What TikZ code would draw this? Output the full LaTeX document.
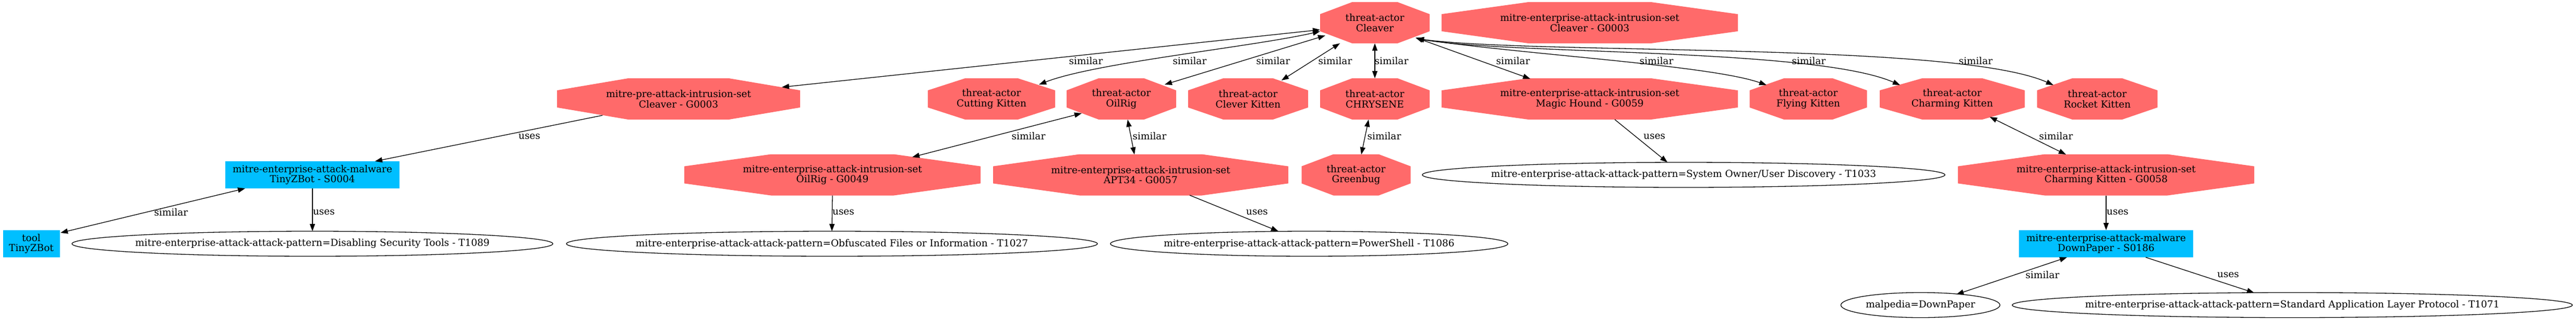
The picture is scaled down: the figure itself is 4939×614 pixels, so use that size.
\documentclass[tikz,border=0pt]{standalone}
\usepackage{fontspec}
\setmainfont{DejaVu Serif}
\usetikzlibrary{shapes.geometric,arrows.meta,calc}
\definecolor{octred}{HTML}{FF6A6A}
\definecolor{boxblue}{HTML}{00BFFF}
% name, x, y, width, chamfer, text
\newcommand\octn[6]{%
  \fill[octred] ({#2-#4/2+#5},{#3-39.5}) -- ({#2+#4/2-#5},{#3-39.5}) -- ({#2+#4/2},{#3-16.4}) -- ({#2+#4/2},{#3+16.4}) -- ({#2+#4/2-#5},{#3+39.5}) -- ({#2-#4/2+#5},{#3+39.5}) -- ({#2-#4/2},{#3+16.4}) -- ({#2-#4/2},{#3-16.4}) -- cycle;
  \node[octtext, minimum width=#4pt] (#1) at (#2,#3) {#6};%
}
\begin{document}
\begin{tikzpicture}[x=1pt,y=-1pt,
  every node/.style={font=\fontsize{18.5}{19.5}\selectfont, align=center, inner sep=0pt, outer sep=0pt},
  octtext/.style={rectangle, draw=none, minimum height=79pt},
  bluebox/.style={rectangle, fill=boxblue, draw=none, minimum width=#1pt, minimum height=52pt},
  pat/.style={ellipse, draw=black, line width=1.3pt, fill=white, minimum width=#1pt, minimum height=48pt},
  lbl/.style={},
  simedge/.style={line width=1.3pt, {Triangle[length=14pt,width=10pt]}-{Triangle[length=14pt,width=10pt]}},
  usesedge/.style={line width=1.3pt, -{Triangle[length=14pt,width=10pt]}},
]
\fill[white] (0,0) rectangle (4939,614);
\useasboundingbox (0,0) rectangle (4939,614);

% row 1
\octn{A}{2636}{43.5}{210}{61.5}{threat-actor\\Cleaver}
\octn{B}{3048}{43.5}{568}{166.4}{mitre-enterprise-attack-intrusion-set\\Cleaver - G0003}
% row 2
\octn{C}{1301}{189.5}{466}{136.5}{mitre-pre-attack-intrusion-set\\Cleaver - G0003}
\octn{D}{1901}{189.5}{244}{71.5}{threat-actor\\Cutting Kitten}
\octn{E}{2150}{189.5}{210}{61.5}{threat-actor\\OilRig}
\octn{F}{2393}{189.5}{230}{67.4}{threat-actor\\Clever Kitten}
\octn{G}{2636}{189.5}{210}{61.5}{threat-actor\\CHRYSENE}
\octn{H}{3048}{189.5}{568}{166.4}{mitre-enterprise-attack-intrusion-set\\Magic Hound - G0059}
\octn{I}{3467}{189.5}{225}{65.9}{threat-actor\\Flying Kitten}
\octn{J}{3743}{189.5}{278}{81.4}{threat-actor\\Charming Kitten}
\octn{K}{4021}{189.5}{231}{67.7}{threat-actor\\Rocket Kitten}
% row 3
\node[bluebox=334] (L) at (599,335) {mitre-enterprise-attack-malware\\TinyZBot - S0004};
\octn{M}{1596}{335}{568}{166.4}{mitre-enterprise-attack-intrusion-set\\OilRig - G0049}
\octn{N}{2187}{335}{566}{165.8}{mitre-enterprise-attack-intrusion-set\\APT34 - G0057}
\octn{O}{2600}{335}{209}{61.2}{threat-actor\\Greenbug}
\node[pat=1002] (P) at (3228,335) {\makebox[0pt]{mitre-enterprise-attack-attack-pattern=System Owner/User Discovery - T1033}};
\octn{Q}{4038}{335}{568}{166.4}{mitre-enterprise-attack-intrusion-set\\Charming Kitten - G0058}
% row 4
\node[bluebox=109] (R) at (60,467) {tool\\TinyZBot};
\node[pat=922] (S) at (599,467) {\makebox[0pt]{mitre-enterprise-attack-attack-pattern=Disabling Security Tools - T1089}};
\node[pat=1018] (T) at (1595,467) {\makebox[0pt]{mitre-enterprise-attack-attack-pattern=Obfuscated Files or Information - T1027}};
\node[pat=762] (U) at (2510,467) {\makebox[0pt]{mitre-enterprise-attack-attack-pattern=PowerShell - T1086}};
\node[bluebox=334] (V) at (4038,467) {mitre-enterprise-attack-malware\\DownPaper - S0186};
% row 5
\node[pat=305] (W) at (3682,584.5) {\makebox[0pt]{malpedia=DownPaper}};
\node[pat=1074] (X) at (4395,584.5) {\makebox[0pt]{mitre-enterprise-attack-attack-pattern=Standard Application Layer Protocol - T1071}};

% edges from Cleaver
\draw[simedge] ($(A)+(-105,13.5)$) -- ($(C)+(198,-22.5)$);
\draw[simedge] ($(A)+(-105,16.5)$) .. controls (2400,90) and (2100,120) .. ($(D)+(91,-27.5)$);
\draw[simedge] ($(A)+(-95,24.5)$) -- ($(E)+(83,-27.5)$);
\draw[simedge] ($(A)+(-67,39.5)$) -- ($(F)+(64,-35.5)$);
\draw[simedge] (A.south) -- (G.north);
\draw[simedge] ($(A)+(78,28.5)$) -- ($(H)+(-114,-38.5)$);
\draw[simedge] ($(A)+(80,30.5)$) .. controls (2916,104) and (3280,125) .. ($(I)+(-80,-26.5)$);
\draw[simedge] ($(A)+(80,30.5)$) .. controls (2900,105) and (3480,92) .. ($(J)+(-100,-26.5)$);
\draw[simedge] ($(A)+(80,30.5)$) .. controls (2950,105) and (3750,80) .. ($(K)+(-84,-26.5)$);
% other edges
\draw[usesedge] ($(C)+(-146,31.5)$) -- ($(L)+(120,-26)$);
\draw[simedge] ($(L)+(-129,26)$) -- ($(R)+(56,-21)$);
\draw[usesedge] (L.south) -- (S.north);
\draw[simedge] ($(E)+(-76,27.5)$) -- ($(M)+(153,-34)$);
\draw[simedge] ($(E)+(12,39.5)$) -- ($(N)+(-12,-39)$);
\draw[simedge] ($(G)+(-12,39.5)$) -- ($(O)+(10,-39)$);
\draw[usesedge] ($(H)+(48,39.5)$) -- ($(P)+(-31,-24)$);
\draw[usesedge] (M.south) -- (T.north);
\draw[usesedge] ($(N)+(94,39)$) -- ($(U)+(-59,-24)$);
\draw[simedge] ($(J)+(72,34.5)$) -- ($(Q)+(-77,-39)$);
\draw[usesedge] (Q.south) -- (V.north);
\draw[simedge] ($(V)+(-75,26)$) -- ($(W)+(69,-20.5)$);
\draw[usesedge] ($(V)+(76,26)$) -- ($(X)+(-73,-23.5)$);

% labels
\node[lbl] (l1) at (2082,117) {similar};
\node[lbl] (l2) at (2281,117) {similar};
\node[lbl] (l3) at (2441,117) {similar};
\node[lbl] (l4) at (2560,117) {similar};
\node[lbl] (l5) at (2668,117) {similar};
\node[lbl] (l6) at (2901,117) {similar};
\node[lbl] (l7) at (3176,117) {similar};
\node[lbl] (l8) at (3468,117) {similar};
\node[lbl] (l9) at (3788,117) {similar};
\node[lbl] (l10) at (1015,262) {uses};
\node[lbl] (l11) at (328,407) {similar};
\node[lbl] (l12) at (621,407) {uses};
\node[lbl] (l13) at (1972,261) {similar};
\node[lbl] (l14) at (2204,261) {similar};
\node[lbl] (l15) at (2654,261) {similar};
\node[lbl] (l16) at (3172,262) {uses};
\node[lbl] (l17) at (1617,407) {uses};
\node[lbl] (l18) at (2410,407) {uses};
\node[lbl] (l19) at (3942,261) {similar};
\node[lbl] (l20) at (4060,407) {uses};
\node[lbl] (l21) at (3916,527) {similar};
\node[lbl] (l22) at (4272,527) {uses};
\end{tikzpicture}
\end{document}
